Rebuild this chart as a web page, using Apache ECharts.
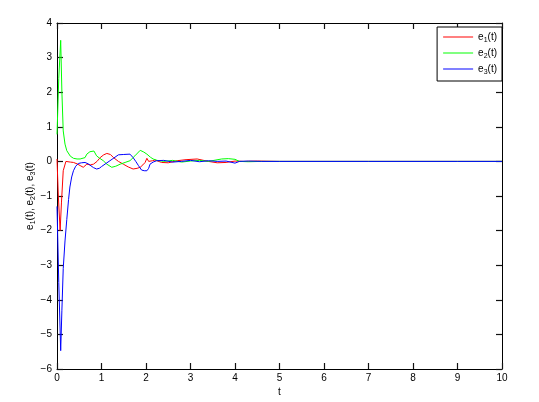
<!DOCTYPE html>
<html>
<head>
<meta charset="utf-8">
<script src="https://cdn.jsdelivr.net/npm/echarts@6/dist/echarts.min.js"></script>
<style>html,body{margin:0;padding:0;background:#fff}#c{width:539px;height:402px}</style>
</head>
<body>
<div id="c"></div>
<script>
// e1(t) red
const t1 = [0, 0.03, 0.07, 0.1, 0.14, 0.2, 0.3, 0.37, 0.45, 0.52, 0.59, 0.67, 0.75, 0.82, 0.9, 0.97, 1.05, 1.12, 1.2, 1.27, 1.38, 1.49, 1.6, 1.71, 1.8, 1.87, 1.93, 1.98, 2.02, 2.06, 2.09, 2.15, 2.2, 2.35, 2.5, 2.7, 2.9, 3.15, 3.4, 3.6, 3.8, 4.0, 4.2, 4.5, 5, 6, 7, 8, 9, 10];
const e1 = [0.07, -1.0, -2.0, -1.2, -0.27, 0.0, -0.02, -0.03, -0.07, -0.12, -0.17, -0.08, -0.1, -0.08, 0.0, 0.11, 0.19, 0.23, 0.2, 0.11, 0.0, -0.08, -0.16, -0.22, -0.2, -0.17, -0.1, -0.03, 0.09, 0.0, -0.03, 0.02, 0.04, -0.03, -0.04, 0.02, 0.05, 0.07, 0.0, -0.04, -0.03, 0.01, 0.0, 0.01, 0, 0, 0, 0, 0, 0];
// e2(t) green
const t2 = [0, 0.04, 0.083, 0.11, 0.14, 0.18, 0.22, 0.3, 0.37, 0.45, 0.52, 0.63, 0.67, 0.74, 0.83, 0.89, 0.95, 1.04, 1.12, 1.23, 1.32, 1.42, 1.53, 1.64, 1.75, 1.87, 1.95, 2.02, 2.1, 2.16, 2.25, 2.4, 2.6, 2.8, 3.0, 3.2, 3.4, 3.7, 3.85, 4.0, 4.1, 4.3, 4.6, 5, 6, 7, 8, 9, 10];
const e2 = [0.78, 2.4, 3.5, 2.0, 0.88, 0.5, 0.31, 0.15, 0.09, 0.07, 0.07, 0.11, 0.21, 0.28, 0.3, 0.16, 0.1, 0.02, -0.08, -0.17, -0.14, -0.08, -0.03, 0.02, 0.16, 0.32, 0.27, 0.21, 0.12, 0.07, 0.03, 0.0, 0.03, -0.02, 0.01, 0.03, 0.0, 0.07, 0.08, 0.06, 0.0, -0.01, 0.0, 0, 0, 0, 0, 0, 0];
// e3(t) blue
const t3 = [0, 0.04, 0.083, 0.11, 0.14, 0.18, 0.22, 0.26, 0.29, 0.33, 0.37, 0.42, 0.48, 0.55, 0.63, 0.7, 0.74, 0.82, 0.89, 0.95, 1.0, 1.1, 1.19, 1.28, 1.38, 1.5, 1.64, 1.71, 1.77, 1.83, 1.9, 1.96, 2.02, 2.06, 2.09, 2.16, 2.24, 2.4, 2.6, 2.8, 3.0, 3.2, 3.4, 3.6, 3.8, 4.0, 4.1, 4.3, 4.6, 5, 6, 7, 8, 9, 10];
const e3 = [-1.3, -3.5, -5.47, -4.3, -3.1, -2.3, -1.68, -1.1, -0.74, -0.45, -0.27, -0.14, -0.06, -0.04, -0.03, -0.07, -0.12, -0.18, -0.22, -0.2, -0.15, -0.06, 0.02, 0.1, 0.19, 0.2, 0.21, 0.11, 0.0, -0.12, -0.25, -0.27, -0.27, -0.2, -0.08, -0.02, 0.02, 0.03, -0.02, 0.0, 0.03, -0.01, 0.02, 0.0, 0.01, -0.05, 0.0, 0.01, 0, 0, 0, 0, 0, 0, 0];

const xTicks = [0,1,2,3,4,5,6,7,8,9,10];
const yTicks = [-6,-5,-4,-3,-2,-1,0,1,2,3,4];
const seriesNames = ['e1', 'e2', 'e3'];
const seriesColors = ['#ff0000', '#00ff00', '#0000ff'];

const pair = (t, v) => t.map((x, i) => [x, v[i]]);
const FONT = 'Liberation Sans';
const rich = {
  m: { fontFamily: FONT, fontSize: 10, color: '#000', lineHeight: 14 },
  s: { fontFamily: FONT, fontSize: 7, color: '#000', lineHeight: 6, verticalAlign: 'bottom' }
};
const lbl = (n) => '{m|e}{s|' + n + '}{m|(t)}';

const chart = echarts.init(document.getElementById('c'));
function tick() { return { show: true, inside: true, length: 6, lineStyle: { color: '#111', width: 1.2 } }; }
function line() { return { show: true, onZero: false, lineStyle: { color: '#000', width: 1 } }; }
chart.setOption({
  animation: false,
  grid: { left: 57, right: 37, top: 23, bottom: 27 },
  legend: {
    data: seriesNames,
    right: 37, top: 27,
    orient: 'vertical',
    backgroundColor: '#fff',
    borderColor: '#000', borderWidth: 1,
    padding: [5, 5, 5, 6],
    itemGap: 4,
    itemWidth: 30, itemHeight: 1,
    icon: 'rect',
    formatter: (n) => lbl(n.slice(1)),
    textStyle: { rich: rich }
  },
  xAxis: [
    { type: 'value', min: 0, max: 10, interval: 1,
      axisLine: line(), axisTick: tick(), splitLine: { show: false },
      name: 't', nameLocation: 'middle', nameGap: 18, nameMoveOverlap: false,
      nameTextStyle: { fontFamily: FONT, fontSize: 10, color: '#000' },
      axisLabel: { fontFamily: FONT, fontSize: 10, color: '#000', margin: 4,
        formatter: (v) => xTicks.includes(v) ? String(v) : '' } },
    { type: 'value', min: 0, max: 10, interval: 1, position: 'top',
      axisLine: line(), axisTick: tick(), splitLine: { show: false },
      axisLabel: { show: false } }
  ],
  yAxis: [
    { type: 'value', min: -6, max: 4, interval: 1,
      axisLine: line(), axisTick: tick(), splitLine: { show: false },
      name: lbl(1) + '{m|, }' + lbl(2) + '{m|, }' + lbl(3),
      nameLocation: 'middle', nameGap: 20, nameRotate: 90, nameMoveOverlap: false,
      nameTextStyle: { rich: rich },
      axisLabel: { fontFamily: FONT, fontSize: 10, color: '#000', margin: 5,
        formatter: (v) => yTicks.includes(v) ? (v < 0 ? '\u2212' + (-v) : String(v)) : '' } },
    { type: 'value', min: -6, max: 4, interval: 1, position: 'right',
      axisLine: line(), axisTick: tick(), splitLine: { show: false },
      axisLabel: { show: false } }
  ],
  series: [
    { name: 'e1', type: 'line', data: pair(t1, e1), showSymbol: false, color: seriesColors[0], lineStyle: { width: 1 } },
    { name: 'e2', type: 'line', data: pair(t2, e2), showSymbol: false, color: seriesColors[1], lineStyle: { width: 1 } },
    { name: 'e3', type: 'line', data: pair(t3, e3), showSymbol: false, color: seriesColors[2], lineStyle: { width: 1 } }
  ]
});
</script>
</body>
</html>
